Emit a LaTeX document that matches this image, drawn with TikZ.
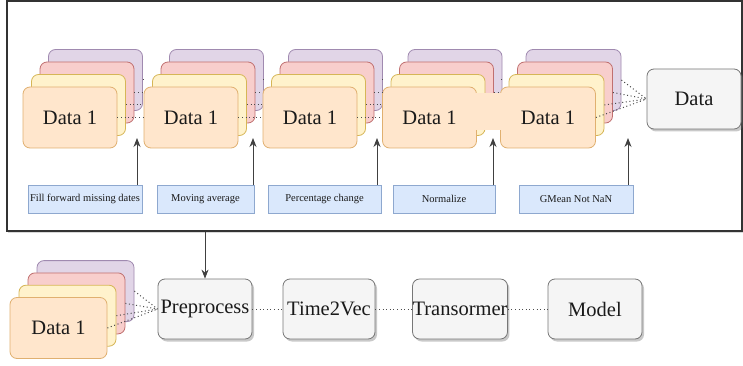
\documentclass[tikz,border=0pt]{standalone}
\usepackage{fontspec}
\setmainfont{Liberation Serif}
\newfontfamily\tms{Liberation Serif}
\usetikzlibrary{shadows,arrows.meta,calc}
\definecolor{cfo}{HTML}{FFE6CC}\definecolor{cdo}{HTML}{E0B070}
\definecolor{yfi}{HTML}{FFF2CC}\definecolor{ydr}{HTML}{D6B656}
\definecolor{rfi}{HTML}{F8CECC}\definecolor{rdr}{HTML}{C07070}
\definecolor{pfi}{HTML}{E1D5E7}\definecolor{pdr}{HTML}{A08AB0}
\definecolor{gfi}{HTML}{F5F5F5}\definecolor{gdr}{HTML}{777777}
\definecolor{bfi}{HTML}{DAE8FC}\definecolor{bdr}{HTML}{8EA8CF}
\definecolor{txt}{HTML}{1A1A1A}
\tikzset{
  card/.style={rounded corners=7pt, minimum height=61pt, inner sep=0pt, line width=0.8pt,
    font=\tms\fontsize{20.5}{24}\selectfont, text=txt},
  cfront/.style={card, fill=cfo, draw=cdo},
  cyel/.style={card, fill=yfi, draw=ydr},
  cred/.style={card, fill=rfi, draw=rdr},
  cpur/.style={card, fill=pfi, draw=pdr},
  gbox/.style={card, fill=gfi, draw=gdr, minimum width=94pt, minimum height=60pt,
    drop shadow={shadow xshift=2pt, shadow yshift=-2.5pt, opacity=0.35, fill=black!60}},
  lbl/.style={fill=bfi, draw=bdr, line width=0.6pt, minimum height=28pt, inner sep=0pt,
    font=\tms\fontsize{10.5}{12}\selectfont, text=txt},
  dotl/.style={draw=black!70, line width=1pt, dash pattern=on 1pt off 2.6pt},
  arr/.style={draw=black!75, line width=0.9pt, -{Stealth[length=9pt,width=7pt]}},
}
\newcommand\mkstack[6]{% name, x, y, width, dx, dy
  \node[cpur, minimum width=#4] (#1-p) at (#2+3*#5,#3-3*#6) {};
  \node[cred, minimum width=#4] (#1-r) at (#2+2*#5,#3-2*#6) {};
  \node[cyel, minimum width=#4] (#1-y) at (#2+#5,#3-#6) {};
  \node[cfront, minimum width=#4] (#1-f) at (#2,#3) {Data 1};
}
\begin{document}
\begin{tikzpicture}[x=1pt,y=-1pt]
\useasboundingbox[fill=white] (0,0) rectangle (743,366);
% frame
\node[draw=black!80, line width=1.6pt, fill=white, minimum width=735pt, minimum height=230pt,
  inner sep=0pt, drop shadow={shadow xshift=1pt, shadow yshift=-2pt, opacity=0.3}]
  (frame) at (374.5,116) {};
% top stacks
\mkstack{s1}{70}{117.5}{94pt}{8.5}{12.5}
\mkstack{s2}{191}{117.5}{94pt}{8.5}{12.5}
\mkstack{s3}{310}{117.5}{94pt}{8.5}{12.5}
\mkstack{s4}{429.5}{117.5}{94pt}{8.5}{12.5}
\mkstack{s5}{548}{117.5}{95pt}{8.5}{12.5}
\node[gbox] (data) at (694,99) {Data};
% dotted connectors between stacks
\foreach \a/\b in {s1/s2,s2/s3,s3/s4,s4/s5}{
  \foreach \l in {f,y,r,p}{
    \draw[dotl] (\a-\l.east) -- (\a-\l.east -| \b-f.west);
  }
}
\fill[cfo] ($(s4-f.east)+(-2,-24.5)$) rectangle ($(s5-f.west)+(2,12.5)$);
\foreach \l in {f,y,r,p}{ \draw[dotl] (s5-\l.east) -- (data.west); }
% labels
\node[lbl, minimum width=114pt] (l1) at (85,199) {Fill forward missing dates};
\node[lbl, minimum width=97pt] (l2) at (205.5,199) {Moving average};
\node[lbl, minimum width=113pt] (l3) at (324.5,199) {Percentage change};
\node[lbl, minimum width=102pt] (l4) at (444,199) {Normalize};
\node[lbl, minimum width=114pt] (l5) at (576,199) {GMean Not NaN};
\coordinate (a1) at (137,138);
\coordinate (a2) at (253,138);
\coordinate (a3) at (377,138);
\coordinate (a4) at (493,138);
\coordinate (a5) at (628,138);
\draw[arr] (l1.north -| a1) -- (a1);
\draw[arr] (l2.north -| a2) -- (a2);
\draw[arr] (l3.north -| a3) -- (a3);
\draw[arr] (l4.north -| a4) -- (a4);
\draw[arr] (l5.north -| a5) -- (a5);
% bottom row
\mkstack{b}{58.5}{328}{97pt}{9}{12.3}
\node[gbox] (pre) at (205,309) {Preprocess};
\node[gbox, minimum width=92pt] (t2v) at (329,309) {Time2Vec};
\node[gbox] (trf) at (460,309) {Transormer};
\node[gbox] (mdl) at (595,309) {Model};
\foreach \l in {f,y,r,p}{ \draw[dotl] (b-\l.east) -- (pre.west); }
\draw[dotl] (pre) -- (t2v);
\draw[dotl] (t2v) -- (trf);
\draw[dotl] (trf) -- (mdl);
\draw[arr] (frame.south -| pre.north) -- (pre.north);
\end{tikzpicture}
\end{document}
